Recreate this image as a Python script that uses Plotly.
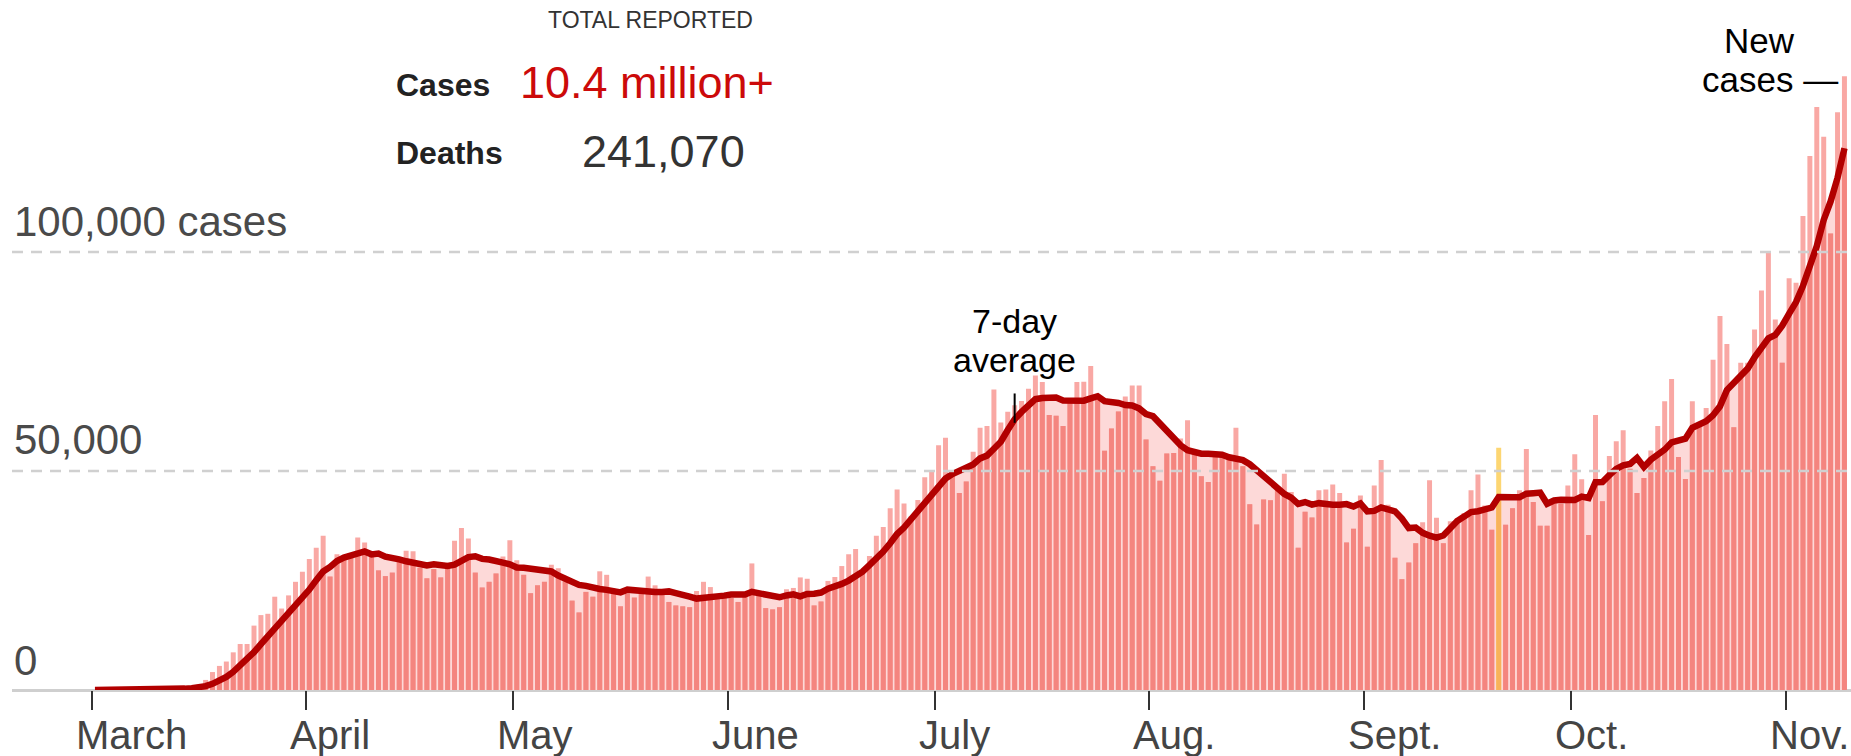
import numpy as np
import pandas as pd
import plotly.graph_objects as go

# -----------------------------------------------------------------------------
# Data: daily new U.S. cases in thousands (Mar 1 - Nov 9)
# -----------------------------------------------------------------------------

march = [0.0, 0.0, 0.0, 0.0, 0.1, 0.1, 0.1, 0.1, 0.1, 0.2, 0.3, 0.4, 0.5, 0.6, 0.8, 1.2,
         2.3, 4.1, 5.5, 6.5, 8.6, 10.5, 10.5, 14.7, 17.1, 17.4, 21.3, 18.6, 21.6, 24.7, 27.0]
april = [29.9, 32.5, 35.2, 25.9, 31.0, 30.2, 30.6, 34.8, 33.7, 30.6, 27.3, 26.0, 26.8, 29.5,
         31.8, 31.7, 27.9, 25.5, 27.6, 25.7, 27.9, 34.1, 37.0, 34.6, 26.8, 23.4, 24.7, 26.6, 30.5, 34.2]
may = [29.6, 26.3, 22.1, 23.9, 24.7, 28.6, 27.8, 24.8, 20.4, 17.7, 22.4, 21.3, 27.1, 26.3, 22.2,
       19.1, 22.0, 21.1, 22.4, 25.9, 23.9, 22.2, 20.1, 19.3, 19.1, 18.9, 22.6, 24.7, 23.5, 20.7, 21.3]
june = [21.0, 20.1, 21.4, 28.9, 21.8, 18.7, 18.4, 18.9, 23.0, 23.3, 25.7, 25.4, 19.3, 20.2, 24.9,
        25.8, 28.3, 31.0, 32.2, 26.8, 30.6, 35.2, 37.2, 41.5, 45.8, 42.6, 39.6, 43.4, 48.6, 50.2]
july = [55.9, 57.6, 49.8, 45.0, 47.6, 54.4, 59.9, 60.3, 68.6, 61.1, 63.5, 65.0, 66.0, 68.8, 71.8,
        70.3, 62.8, 62.6, 60.3, 65.7, 70.3, 70.4, 74.0, 66.2, 54.6, 59.7, 63.6, 67.0, 69.5, 69.5, 57.2]
august = [51.1, 47.8, 54.0, 54.1, 57.4, 61.6, 54.0, 48.8, 47.5, 53.4, 53.4, 53.2, 59.9, 51.1, 42.4,
          37.8, 43.5, 43.3, 45.8, 49.4, 45.2, 32.5, 40.7, 39.4, 45.6, 45.8, 46.9, 45.0, 33.7, 36.8, 44.4]
september = [32.7, 46.7, 52.5, 42.3, 30.2, 25.3, 29.1, 33.5, 38.3, 47.9, 39.3, 33.5, 38.5, 39.2, 40.4,
             45.6, 49.2, 42.1, 36.6, 55.3, 37.7, 41.5, 45.6, 55.0, 42.9, 37.5, 37.5, 42.9, 42.5, 46.7]
october = [53.8, 48.1, 35.4, 62.8, 43.1, 53.4, 56.8, 59.3, 50.5, 45.0, 48.4, 54.7, 60.3, 65.9, 71.0,
           53.2, 48.2, 65.9, 61.0, 64.4, 75.4, 85.4, 79.0, 60.0, 74.7, 74.7, 82.3, 91.2, 100.1, 84.6, 74.7]
november = [94.0, 93.0, 108.2, 121.9, 133.1, 126.3, 104.2, 131.9, 140.1]

month_labels = ["March", "April", "May", "June", "July", "Aug.", "Sept.", "Oct.", "Nov."]
highlight_day = 203  # Sept. 20, drawn in yellow

# -----------------------------------------------------------------------------
# Prep
# -----------------------------------------------------------------------------

months = [march, april, may, june, july, august, september, october, november]
cases = np.concatenate([np.array(m) for m in months]) * 1000
avg = pd.Series(cases).rolling(7, min_periods=1).mean().to_numpy()
xs = np.arange(len(cases)) + 0.5
month_starts = np.cumsum([0] + [len(m) for m in months[:-1]])

BAR_LIGHT = "#f9a8a4"
BAR_DARK = "#f4857f"
FILL = "#fdd9d8"
LINE = "#b20000"
GRID = "#d0d0d0"
FONT = "Liberation Sans"

light_colors = [BAR_LIGHT] * len(cases)
dark_colors = [BAR_DARK] * len(cases)
light_colors[highlight_day] = "#fdd672"
dark_colors[highlight_day] = "#f8b25a"

W, H = 1851, 756
ML, MB = 12, 66
PX_PER_DAY = 6.915
PX_PER_K = 4.38
x0 = -(91.5 - ML) / PX_PER_DAY
x1 = x0 + (W - ML) / PX_PER_DAY
y1 = (H - MB) / PX_PER_K * 1000


def px(x):
    return (x - ML) / (W - ML)


def py(y):
    return (H - MB - y) / (H - MB)


# -----------------------------------------------------------------------------
# Figure
# -----------------------------------------------------------------------------

fig = go.Figure()
# pink area under the average sits on the base axes so the bars draw over it
fig.add_trace(go.Scatter(x=xs, y=avg, mode="lines", fill="tozeroy", fillcolor=FILL,
                         line=dict(width=0, color=FILL), hoverinfo="skip"))
fig.add_trace(go.Bar(x=xs, y=cases, width=0.72, xaxis="x2", yaxis="y2",
                     marker=dict(color=light_colors, line=dict(width=0))))
fig.add_trace(go.Bar(x=xs, y=np.minimum(cases, avg), width=0.72, xaxis="x2", yaxis="y2",
                     marker=dict(color=dark_colors, line=dict(width=0))))
fig.add_trace(go.Scatter(x=xs, y=avg, mode="lines", xaxis="x2", yaxis="y2",
                         line=dict(color=LINE, width=6.5)))

fig.update_layout(
    width=W,
    height=H,
    margin=dict(l=ML, r=0, t=0, b=MB),
    barmode="overlay",
    showlegend=False,
    plot_bgcolor="white",
    paper_bgcolor="white",
    font=dict(family=FONT),
    xaxis=dict(range=[x0, x1], showgrid=False, zeroline=False, showline=False,
               tickvals=month_starts, showticklabels=False,
               ticks="outside", ticklen=19, tickwidth=2, tickcolor="#333"),
    yaxis=dict(range=[0, y1], showgrid=False, showticklabels=False,
               zeroline=True, zerolinecolor="#cfcfcf", zerolinewidth=3),
    xaxis2=dict(range=[x0, x1], overlaying="x", visible=False),
    yaxis2=dict(range=[0, y1], overlaying="y", visible=False),
)

# dashed gridlines run over the bars
for v in [50000, 100000]:
    fig.add_shape(type="line", xref="paper", yref="y", x0=0, x1=1, y0=v, y1=v,
                  layer="above", line=dict(color=GRID, width=2.5, dash="11px,8px"))

# month labels, left-aligned just before each tick
for d, label in zip(month_starts, month_labels):
    fig.add_annotation(x=d, xref="x", xanchor="left", xshift=-18, y=py(735), yref="paper",
                       yanchor="middle", text=label, showarrow=False,
                       font=dict(size=40, color="#444"))

# y labels sit above their gridlines
for text, ypix in [("100,000 cases", 221), ("50,000", 440), ("0", 660)]:
    fig.add_annotation(x=0, xref="paper", xanchor="left", y=py(ypix), yref="paper",
                       yanchor="middle", text=text, showarrow=False,
                       font=dict(size=42, color="#4a4a4a"))

# totals block
fig.add_annotation(x=px(650), xref="paper", xanchor="center", y=py(20), yref="paper",
                   yanchor="middle", text="TOTAL REPORTED", showarrow=False,
                   font=dict(size=23, color="#333"))
fig.add_annotation(x=px(394), xref="paper", xanchor="left", y=py(85), yref="paper",
                   yanchor="middle", text="<b>Cases</b>", showarrow=False,
                   font=dict(size=32, color="#222"))
fig.add_annotation(x=px(518), xref="paper", xanchor="left", y=py(82), yref="paper",
                   yanchor="middle", text="10.4 million+", showarrow=False,
                   font=dict(size=45, color="#cc0a0a"))
fig.add_annotation(x=px(394), xref="paper", xanchor="left", y=py(153), yref="paper",
                   yanchor="middle", text="<b>Deaths</b>", showarrow=False,
                   font=dict(size=32, color="#222"))
fig.add_annotation(x=px(580), xref="paper", xanchor="left", y=py(151), yref="paper",
                   yanchor="middle", text="241,070", showarrow=False,
                   font=dict(size=45, color="#333"))

# line labels
fig.add_annotation(x=133.5, xref="x", xanchor="center", y=py(321), yref="paper",
                   yanchor="middle", text="7-day", showarrow=False,
                   font=dict(size=34, color="#000"))
fig.add_annotation(x=133.5, xref="x", xanchor="center", y=py(360), yref="paper",
                   yanchor="middle", text="average", showarrow=False,
                   font=dict(size=34, color="#000"))
fig.add_shape(type="line", xref="x", yref="y", x0=133.5, x1=133.5, y0=61000, y1=67700,
              line=dict(color="#000", width=2))

fig.add_annotation(x=px(1797), xref="paper", xanchor="right", y=py(41), yref="paper",
                   yanchor="middle", text="New", showarrow=False,
                   font=dict(size=35, color="#000"))
fig.add_annotation(x=px(1840), xref="paper", xanchor="right", y=py(79), yref="paper",
                   yanchor="middle", text="cases —", showarrow=False,
                   font=dict(size=35, color="#000"))

fig.write_html("out.html", config={"displayModeBar": False},
               post_script="document.body.style.margin = '0';")
